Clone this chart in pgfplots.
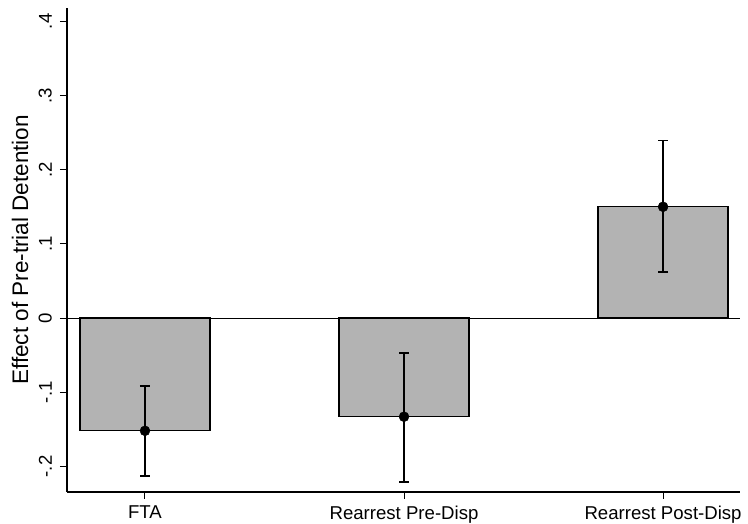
\documentclass[border=0pt]{standalone}
\usepackage{pgfplots}
\pgfplotsset{compat=1.18}
\usepackage{fontspec}
\setmainfont{Liberation Sans}
\definecolor{barfill}{RGB}{179,179,179}
\begin{document}
\begin{tikzpicture}
\useasboundingbox (-67pt,-32pt) rectangle (681pt,492pt);
\begin{axis}[
  at={(0,0)}, anchor=south west,
  scale only axis, width=673pt, height=484pt,
  xmin=0.699, xmax=3.297, ymin=-0.2345, ymax=0.418,
  axis x line*=bottom, axis y line*=left,
  axis line style={line width=1.2pt, black},
  xtick={1,2,3},
  xticklabels={FTA,Rearrest Pre-Disp,Rearrest Post-Disp},
  ytick={-0.2,-0.1,0,0.1,0.2,0.3,0.4},
  yticklabels={-.2,-.1,0,.1,.2,.3,.4},
  tick align=outside,
  tick style={line width=1pt, black},
  major tick length=7pt,
  xticklabel shift=7pt,
  yticklabel shift=8pt,
  xticklabel style={font=\fontsize{18.6}{20}\selectfont, anchor=north, inner sep=0pt},
  yticklabel style={font=\fontsize{18.6}{20}\selectfont, rotate=90, anchor=south, inner sep=0pt},
  ylabel={Effect of Pre-trial Detention},
  ylabel style={font=\fontsize{22.5}{24}\selectfont, at={(axis description cs:-0.0698,0.5)}, anchor=center},
  clip=false,
]
\addplot[ybar, bar width=130pt, fill=barfill, draw=black, line width=1.2pt]
  coordinates {(1,-0.152) (2,-0.133) (3,0.150)};
\addplot[black, line width=0.8pt] coordinates {(0.699,0) (3.297,0)};
\addplot[only marks, mark=*, mark size=5pt, black,
  error bars/.cd, y dir=both, y explicit,
  error bar style={line width=1.4pt, black},
  error mark options={rotate=90, line width=1.4pt, mark size=5pt, black}]
  coordinates {
    (1,-0.152) += (0,0.0604) -= (0,0.061)
    (2,-0.133) += (0,0.086) -= (0,0.088)
    (3,0.150) += (0,0.089) -= (0,0.088)
  };
\end{axis}
\end{tikzpicture}
\end{document}
